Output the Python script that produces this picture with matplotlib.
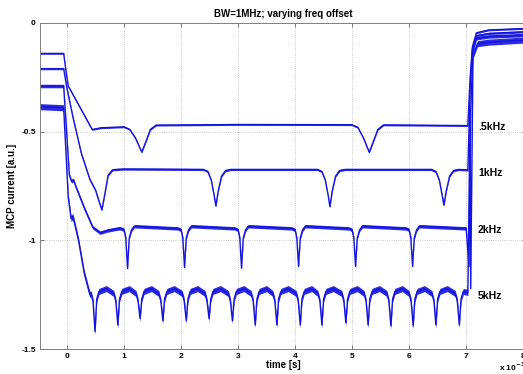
import matplotlib
matplotlib.use("Agg")
import matplotlib.pyplot as plt
import numpy as np

plt.rcParams['font.family'] = ['Liberation Sans', 'DejaVu Sans']
plt.rcParams['font.weight'] = 'bold'

# ---- data (time in units of 1e-3 s, current in a.u.) ----
# .5kHz trace
t_05 = [-0.48, -0.06, -0.02, 0.02, 0.44, 0.6, 1.0, 1.1, 1.2, 1.31, 1.39, 1.46, 1.56,
        3.0, 4.99, 5.1, 5.2, 5.3, 5.38, 5.45, 5.55, 7.03, 7.07, 7.11, 7.18, 7.4, 8.05]
y_05 = [-0.14, -0.14, -0.22, -0.29, -0.49, -0.482, -0.478, -0.49, -0.53, -0.594, -0.54,
        -0.49, -0.47, -0.467, -0.468, -0.48, -0.53, -0.595, -0.54, -0.49, -0.469, -0.472,
        -0.25, -0.11, -0.045, -0.032, -0.025]

# 1kHz trace: start, dips, end
t_1k_start = [-0.48, -0.06, -0.01, 0.1, 0.25, 0.4, 0.5, 0.56, 0.61, 0.66, 0.72, 0.8, 1.0]
y_1k_start = [-0.21, -0.21, -0.29, -0.43, -0.6, -0.72, -0.77, -0.82, -0.86, -0.79, -0.7, -0.675, -0.672]
dip_1k_t = [2.61, 4.61, 6.61]
dip_1k_min = [-0.842, -0.845, -0.838]
level_1k = -0.674
t_1k_end = [7.03, 7.07, 7.11, 7.18, 7.4, 8.05]
y_1k_end = [-0.676, -0.3, -0.12, -0.058, -0.048, -0.04]

# 2kHz trace
t_2k_start = [-0.48, -0.06, 0.04, 0.08, 0.11, 0.15, 0.3, 0.45, 0.58, 0.7, 0.9]
y_2k_start = [-0.29, -0.29, -0.7, -0.73, -0.72, -0.75, -0.85, -0.94, -0.965, -0.955, -0.945]
dip_2k_t = [1.06, 2.06, 3.06, 4.06, 5.06, 6.06]
dip_2k_min = [-1.13, -1.125, -1.128, -1.12, -1.12, -1.12]
level_2k = -0.94
t_2k_end = [7.0, 7.05, 7.08, 7.12, 7.18, 7.4, 8.05]
y_2k_end = [-0.945, -1.12, -0.4, -0.13, -0.07, -0.062, -0.055]

# 5kHz trace
t_5k_start = [-0.48, -0.06, 0.02, 0.07, 0.1, 0.13, 0.2, 0.3, 0.4]
y_5k_start = [-0.385, -0.39, -0.8, -0.9, -0.89, -0.92, -1.0, -1.15, -1.25]
dip_5k_t = [0.49, 0.89, 1.28, 1.68, 2.09, 2.49, 2.9, 3.3, 3.68, 4.09, 4.47, 4.89,
            5.28, 5.68, 6.07, 6.47, 6.88]
dip_5k_min = [-1.42, -1.39, -1.36, -1.37, -1.37, -1.36, -1.37, -1.39, -1.39, -1.39,
              -1.39, -1.38, -1.39, -1.394, -1.394, -1.39, -1.39]
t_5k_end = [7.03, 7.07, 7.12, 7.2, 7.4, 8.05]
y_5k_end = [-1.24, -0.4, -0.15, -0.095, -0.088, -0.078]

shape_1k_dt = [-0.22, -0.14, -0.08, -0.03, 0.04, 0.1, 0.17, 0.26]
shape_1k_dy = [0.0, -0.01, -0.05, -0.12, -0.1, -0.03, -0.005, 0.0]
shape_2k_dt = [-0.12, -0.06, -0.03, 0.03, 0.07, 0.12]
shape_2k_dy = [-0.005, -0.012, -0.05, -0.05, -0.012, 0.005]
shape_5k_dt = [-0.07, -0.035, 0.03, 0.07, 0.2]
shape_5k_y = [-1.245, -1.28, -1.27, -1.235, -1.222]

labels = ['.5kHz', '1kHz', '2kHz', '5kHz']
label_y = [-0.479, -0.69, -0.953, -1.256]
noise = [0.004, 0.005, 0.008, 0.014]

xticks = [0, 1, 2, 3, 4, 5, 6, 7, 8]
yticks = [-1.5, -1, -0.5, 0]
ytick_labels = ['-1.5', '-1', '-0.5', '0']


def with_dips(t0, y0, dips, mins, level, dts, dys, t1, y1):
    t, y = list(t0), list(y0)
    for c, m in zip(dips, mins):
        for dt, dy in zip(dts, dys):
            if dt < 0:
                t.append(c + dt); y.append(level + dy)
        t.append(c); y.append(m)
        for dt, dy in zip(dts, dys):
            if dt > 0:
                t.append(c + dt); y.append(level + dy)
    return t + list(t1), y + list(y1)


t_1k, y_1k = with_dips(t_1k_start, y_1k_start, dip_1k_t, dip_1k_min, level_1k,
                       shape_1k_dt, shape_1k_dy, t_1k_end, y_1k_end)
t_2k, y_2k = with_dips(t_2k_start, y_2k_start, dip_2k_t, dip_2k_min, level_2k,
                       shape_2k_dt, shape_2k_dy, t_2k_end, y_2k_end)
t_5k, y_5k = with_dips(t_5k_start, y_5k_start, dip_5k_t, dip_5k_min, 0.0,
                       shape_5k_dt, shape_5k_y, t_5k_end, y_5k_end)
traces = [(t_05, y_05), (t_1k, y_1k), (t_2k, y_2k), (t_5k, y_5k)]

fig = plt.figure(figsize=(5.23, 3.74), dpi=100)
ax = fig.add_axes([40 / 523, 25 / 374, 486 / 523, 326 / 374])

blue = '#1414e0'
for (t, y), n in zip(traces, noise):
    t = np.array(t); y = np.array(y)
    order = np.argsort(t, kind='stable')
    t, y = t[order], y[order]
    ax.fill_between(t, y - n, y + n, color=blue, lw=0, alpha=0.9)
    ax.plot(t, y, color=blue, lw=1.0)

for lab, ly in zip(labels, label_y):
    ax.text(7.21, ly, lab, fontsize=7.5, fontweight='bold', va='center', ha='left')

ax.set_xlim(-0.475, 8.05)
ax.set_ylim(-1.5, 0)
ax.set_xticks(xticks)
ax.set_yticks(yticks)
ax.set_yticklabels(ytick_labels)
ax.tick_params(direction='in', length=3, width=0.6, labelsize=6, top=True, right=True,
               pad=3, colors='#606060', labelcolor='black')
ax.grid(True, ls=':', color='#b8b8b8', lw=0.6)
ax.set_axisbelow(True)
for s in ax.spines.values():
    s.set_color('#808080')
    s.set_linewidth(0.7)

ax.set_title('BW=1MHz; varying freq offset', fontsize=7, fontweight='bold', pad=4)
ax.set_xlabel('time [s]', fontsize=7, fontweight='bold', labelpad=0)
ax.set_ylabel('MCP current [a.u.]', fontsize=7, fontweight='bold', labelpad=3)
fig.text(499 / 523, 1 / 374, 'x 10$^{-3}$', fontsize=6, fontweight='bold', va='bottom')

fig.savefig('out.png', dpi=100)
